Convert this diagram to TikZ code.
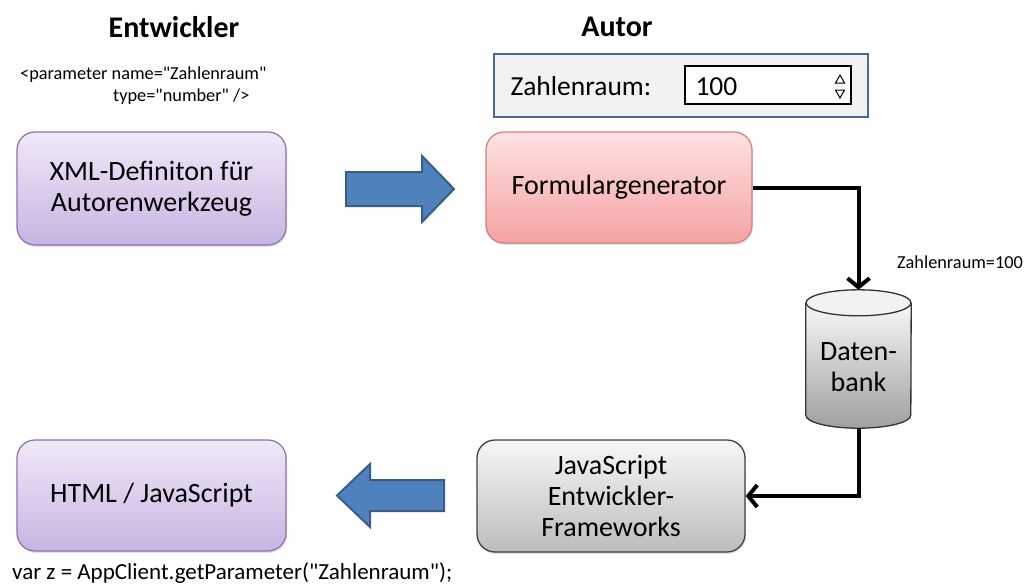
\documentclass[tikz,border=0pt]{standalone}
\usepackage{fontspec}
\setmainfont{Carlito}
% same face without the TeX quote ligatures, for code snippets
\newfontfamily\codefont{Carlito}[Ligatures=TeXOff]
\usetikzlibrary{arrows.meta,shadows}
\definecolor{arrowblue}{HTML}{4F81BD}
\definecolor{arrowedge}{HTML}{385D8A}
\definecolor{panelfill}{HTML}{F2F2F2}
\definecolor{paneledge}{HTML}{4A6A96}
\definecolor{lilatop}{HTML}{F0E9F8}
\definecolor{lilabot}{HTML}{C7B4E2}
\definecolor{lilaedge}{HTML}{8A70B0}
\definecolor{rosetop}{HTML}{FFE2E2}
\definecolor{rosebot}{HTML}{F4A2A2}
\definecolor{roseedge}{HTML}{D27E7C}
\definecolor{greytop}{HTML}{F7F7F7}
\definecolor{greybot}{HTML}{BCBCBC}
\tikzset{
  box/.style={rounded corners=18pt, minimum width=269pt, align=center,
    font=\fontsize{28}{31}\selectfont,
    drop shadow={opacity=0.22, shadow xshift=1pt, shadow yshift=-2pt}},
  lila/.style={box, top color=lilatop, bottom color=lilabot, draw=lilaedge, line width=1.2pt},
  rose/.style={box, top color=rosetop, bottom color=rosebot, draw=roseedge, line width=1.2pt},
  grey/.style={box, top color=greytop, bottom color=greybot, draw=black!75, line width=1.3pt},
  conn/.style={line width=4pt, -{Straight Barb[length=9pt, width=22pt, line width=4pt]}},
  fatarrow/.style={fill=arrowblue, draw=arrowedge, line width=2pt, line join=miter},
  heading/.style={font=\fontsize{30}{33}\selectfont\bfseries},
  small/.style={font=\codefont\fontsize{18.3}{21}\selectfont, inner sep=0pt},
}
\begin{document}
\begin{tikzpicture}[x=1pt, y=-1pt]
\useasboundingbox (0,0) rectangle (1026,587);

% column headings
\node[heading] (hdev) at (174,27) {Entwickler};
\node[heading] (haut) at (617,27) {Autor};

% XML parameter declaration
\node[small, anchor=west] (xml1) at (20,75) {<parameter name="Zahlenraum"};
\node[small, anchor=west] (xml2) at (113,97) {type="number" />};

% form preview seen by the author
\node[draw=paneledge, fill=panelfill, line width=2.5pt, minimum width=374pt,
      minimum height=63pt, inner sep=0pt] (panel) at (681,85.5) {};
\node[font=\fontsize{27.5}{31}\selectfont, anchor=west] (lbl) at (507,86) {Zahlenraum:};
\node[draw=black, fill=white, line width=2.5pt, minimum width=166pt,
      minimum height=38pt, inner sep=0pt] (field) at (768,85) {};
\node[font=\fontsize{27.5}{31}\selectfont, anchor=west] (val) at (692,87) {100};
\draw[line width=1pt] (835.5,83) -- (840,75) -- (844.5,83) -- cycle;
\draw[line width=1pt] (835.5,90) -- (840,98) -- (844.5,90) -- cycle;

% main boxes
\node[lila, minimum height=113pt] (def) at (151.5,188.5) {XML-Definiton für\\Autorenwerkzeug};
\node[rose, minimum width=266pt, minimum height=111pt] (fg) at (619,187.5) {Formulargenerator};
\node[grey, minimum width=268pt, minimum height=112pt] (js) at (611,496) {JavaScript\\Entwickler-\\Frameworks};
\node[lila, minimum height=111pt] (html) at (151.5,495.5) {HTML / JavaScript};

% database cylinder
\node[minimum width=105pt, minimum height=138pt, inner sep=0pt] (db) at (858.5,359) {};
\fill[top color=greytop, bottom color=greybot!85!black]
  ([yshift=-13pt]db.north west) -- ([yshift=13pt]db.south west)
  arc[start angle=180, end angle=360, x radius=52.5pt, y radius=13pt]
  -- ([yshift=-13pt]db.north east) -- cycle;
\draw[line width=1.3pt, black!80]
  ([yshift=-13pt]db.north west) -- ([yshift=13pt]db.south west)
  arc[start angle=180, end angle=360, x radius=52.5pt, y radius=13pt]
  -- ([yshift=-13pt]db.north east);
\draw[line width=1.3pt, black!80, fill=white!95!black]
  ([yshift=-13pt]db.north) ellipse[x radius=52.5pt, y radius=13pt];
\node[font=\fontsize{28}{31}\selectfont, align=center] (dbtxt) at (858.5,367) {Daten-\\bank};

% big block arrows
\draw[fatarrow] (346,172) -- (422,172) -- (422,156) -- (454,189)
  -- (422,222) -- (422,206) -- (346,206) -- cycle;
\draw[fatarrow] (444,480) -- (370,480) -- (370,464) -- (337,495.5)
  -- (370,527) -- (370,511) -- (444,511) -- cycle;

% data flow
\draw[conn] (fg.east) -| (db.north);
\draw[conn] (db.south) |- (js.east);
\node[small, anchor=west] (stored) at (897,262) {Zahlenraum=100};

% access from JavaScript
\node[font=\codefont\fontsize{23}{26}\selectfont, inner sep=0pt, anchor=base west] (call) at (12,579)
  {var z = AppClient.getParameter("Zahlenraum");};
\end{tikzpicture}
\end{document}
